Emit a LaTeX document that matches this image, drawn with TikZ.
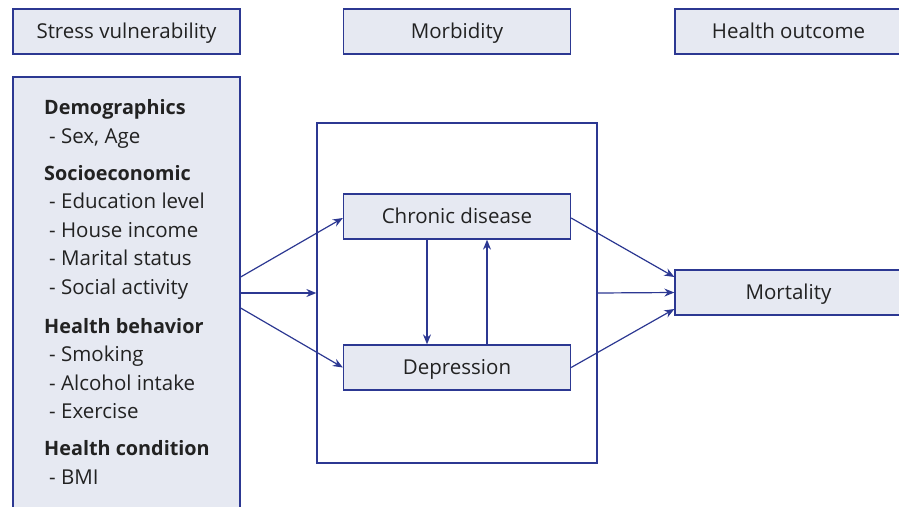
\documentclass[tikz,border=0pt]{standalone}
\usepackage{fontspec}
\setmainfont{Open Sans}
\usetikzlibrary{arrows.meta,calc}
\definecolor{bline}{RGB}{44,56,146}
\definecolor{bfill}{RGB}{230,233,242}
\definecolor{txt}{RGB}{34,34,34}
\tikzset{
  box/.style={draw=bline,fill=bfill,line width=1.3pt,minimum width=227pt,minimum height=45pt,inner sep=0pt,text=txt,font=\fontsize{20.5}{24}\selectfont,text height=14.2pt,text depth=0pt},
  frame/.style={draw=bline,line width=1.3pt,inner sep=0pt},
  arr/.style={draw=bline,line width=1.2pt,-{Stealth[length=10pt,width=8pt]}},
  item/.style={anchor=base west,inner sep=0pt,text=txt,font=\fontsize{20.5}{24}\selectfont},
  head/.style={item,font=\fontsize{19.8}{24}\selectfont\bfseries}
}
\begin{document}
\begin{tikzpicture}[x=1pt,y=-1pt]
\useasboundingbox (0,0) rectangle (899,506);
\clip (0,0) rectangle (899,506);
\node[box] (sv) at (126.5,31.5) {Stress vulnerability};
\node[box] (mb) at (457,31.5) {Morbidity};
\node[box] (ho) at (788.5,31.5) {Health outcome};
\node[box,minimum height=443pt] (left) at (126.5,298.5) {};
\node[frame,minimum width=280pt,minimum height=340pt] (outer) at (457,293) {};
\node[box] (cd) at (457,216.5) {Chronic disease};
\node[box] (dp) at (457,367.5) {Depression};
\node[box] (mo) at (788.5,292.5) {Mortality};
% left box text
\node[head] (t1) at (44,114) {Demographics};
\node[item] (t2) at (49,143) {- Sex, Age};
\node[head] (t3) at (44,180) {Socioeconomic};
\node[item] (t4) at (49,208) {- Education level};
\node[item] (t5) at (49,237) {- House income};
\node[item] (t6) at (49,265) {- Marital status};
\node[item] (t7) at (49,294) {- Social activity};
\node[head] (t8) at (44,333) {Health behavior};
\node[item] (t9) at (49,361) {- Smoking};
\node[item] (t10) at (49,390) {- Alcohol intake};
\node[item] (t11) at (49,418) {- Exercise};
\node[head] (t12) at (44,455) {Health condition};
\node[item] (t13) at (49,484) {- BMI};
% arrows
\coordinate (la) at ($(left.east |- outer.west)+(0,-16)$);
\coordinate (lb) at (left.east |- outer.west);
\coordinate (lc) at ($(left.east |- outer.west)+(0,15)$);
\draw[arr] (la) -- ($(cd.west)+(0,1.5)$);
\draw[arr] (lb) -- (outer.west);
\draw[arr] (lc) -- (dp.west);
\draw[arr] ($(cd.east)+(0,1.5)$) -- ($(mo.west)+(0,-15.5)$);
\draw[arr] (outer.east) -- (mo.west);
\draw[arr] (dp.east) -- ($(mo.west)+(0,16.5)$);
\draw[arr] ($(cd.south)+(-30,0)$) -- ($(dp.north)+(-30,0)$);
\draw[arr] ($(dp.north)+(30,0)$) -- ($(cd.south)+(30,0)$);
\end{tikzpicture}
\end{document}
